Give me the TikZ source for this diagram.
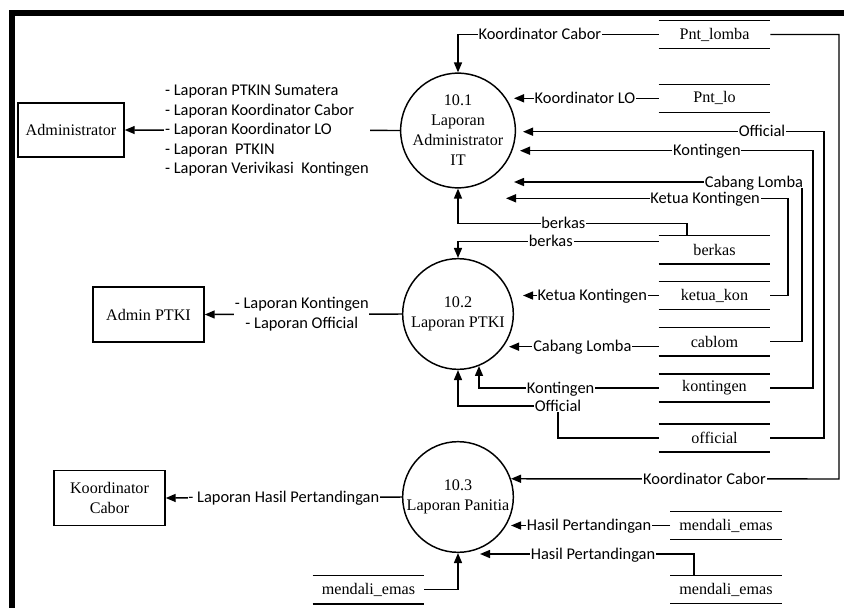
\documentclass[tikz,border=0pt]{standalone}
\usepackage{fontspec}
\setmainfont{Liberation Serif}
\newfontfamily\lblfont{Carlito}
\usetikzlibrary{arrows.meta,calc}
\begin{document}
\begin{tikzpicture}[x=0.75pt,y=-0.75pt,
  sertext/.style={font=\fontsize{12.1}{15}\selectfont},
  proc/.style={circle,draw,line width=1.1pt,minimum size=83pt,inner sep=0pt,align=center,sertext},
  ent/.style={rectangle,draw,line width=1.1pt,minimum width=83.25pt,minimum height=41.25pt,inner sep=0pt,align=center,sertext},
  store/.style={rectangle,minimum width=83.25pt,minimum height=20.7pt,inner sep=0pt,sertext},
  storeline/.style={line width=1.1pt},
  flow/.style={line width=1.1pt,-{Triangle[length=7.5pt,width=6pt]}},
  lbl/.style={font=\lblfont\fontsize{12.3}{14.6}\selectfont,fill=white,inner xsep=0.6pt,inner ysep=0.5pt,text height=7.9pt,text depth=0pt},
  lblblock/.style={font=\lblfont\fontsize{12.3}{14.6}\selectfont,fill=white,inner sep=0.6pt,align=left},
]
\useasboundingbox (0,0) rectangle (844,608);
% frame
\draw[line width=4.3pt] (844,13.3) -- (12.2,13.3) -- (12.2,608);

% processes
\node[proc] (p1) at (458,130.5) {10.1\\Laporan\\Administrator\\IT};
\node[proc] (p2) at (458,314) {10.2\\Laporan PTKI};
\node[proc] (p3) at (458,497) {10.3\\Laporan Panitia};

% external entities
\node[ent,minimum width=79.5pt,minimum height=40.5pt] (admin) at (71,130) {Administrator};
\node[ent] (adminptki) at (148.5,314.5) {Admin PTKI};
\node[ent] (koor) at (109.5,498) {Koordinator\\Cabor};

% data stores
\node[store] (pntlomba) at (714.5,34.5) {Pnt\_lomba};
\node[store] (pntlo) at (714.5,98.3) {Pnt\_lo};
\node[store] (berkas) at (714.5,249.7) {berkas};
\node[store] (ketuakon) at (714.5,295.5) {ketua\_kon};
\node[store] (cablom) at (714.5,341.7) {cablom};
\node[store] (kontingen) at (714.5,388) {kontingen};
\node[store] (official) at (714.5,438) {official};
\node[store] (me1) at (726,525.5) {mendali\_emas};
\node[store] (me2) at (726,589.5) {mendali\_emas};
\node[store] (me3) at (368.5,589.7) {mendali\_emas};
\foreach \s in {pntlomba,pntlo,berkas,ketuakon,cablom,kontingen,official,me1,me2,me3}
  \draw[storeline] (\s.north west) -- (\s.north east) (\s.south west) -- (\s.south east);

% free ends and corners
\coordinate (t1lo) at (514,98.3);
\coordinate (t1off) at (523,131.7);
\coordinate (t1kon) at (520,150.7);
\coordinate (t1cab) at (514,182);
\coordinate (t1ket) at (506,198.3);
\coordinate (c1off) at (824,131.7);
\coordinate (c1kon) at (813,150.7);
\coordinate (c1cab) at (802,182);
\coordinate (c1ket) at (788,198.3);
\coordinate (t2ket) at (523,295.5);
\coordinate (t2cab) at (509,346.7);
\coordinate (offc) at (558,406);
\coordinate (kcorner) at (839,479);
\coordinate (t3hp1) at (511,525.5);
\coordinate (t3hp2) at (480,554);

% 10.1 -> Administrator
\draw[flow] (p1.west) -- (admin.east);
\node[lblblock,anchor=west] (lbadm) at (164,131) {- Laporan PTKIN Sumatera\\- Laporan Koordinator Cabor\\- Laporan Koordinator LO\\- Laporan \ PTKIN\\- Laporan Verivikasi \ Kontingen};

% flows into 10.1
\draw[flow] (pntlomba.west) -| node[lbl,pos=0.296] (lb1) {Koordinator Cabor} (p1.north);
\draw[flow] (pntlo.west) -- node[lbl,pos=0.51] (lb2) {Koordinator LO} (t1lo);
\draw[flow] (official.east) -| (c1off) -- node[lbl,pos=0.206] (lb3) {Official} (t1off);
\draw[flow] (kontingen.east) -| (c1kon) -- node[lbl,pos=0.362] (lb4) {Kontingen} (t1kon);
\draw[flow] (cablom.east) -| (c1cab) -- node[lbl,pos=0.167] (lb5) {Cabang Lomba} (t1cab);
\draw[flow] (ketuakon.east) -| (c1ket) -- node[lbl,pos=0.294] (lb6) {Ketua Kontingen} (t1ket);
\draw[flow] ($(berkas.north)+(-27.5,0)$) |- node[lbl,pos=0.77] (lb7) {berkas} ($(p1.south)+(0,35)$) -- (p1.south);

% flows into 10.2
\draw[flow] ($(berkas.west)+(0,-8)$) -| node[lbl,pos=0.269] (lb8) {berkas} (p2.north);
\draw[flow] (ketuakon.west) -- node[lbl,pos=0.49] (lb9) {Ketua Kontingen} (t2ket);
\draw[flow] ($(cablom.west)+(0,5)$) -- node[lbl,pos=0.51] (lb10) {Cabang Lomba} (t2cab);
\draw[flow] (kontingen.west) -| node[lbl,pos=0.273] (lb11) {Kontingen} (p2.-68.6);
\draw[flow] (official.west) -| (offc) -| (p2.south);
\node[lbl] (lb12) at (offc) {Official};

% 10.2 -> Admin PTKI
\draw[flow] (p2.west) -- node[lblblock,align=center,pos=0.508] (lbptki) {- Laporan Kontingen\\- Laporan Official} (adminptki.east);

% flows into 10.3
\draw[flow] (pntlomba.east) -| (kcorner) -- node[lbl,pos=0.41] (lb13) {Koordinator Cabor} (p3.19);
\draw[flow] (me1.west) -- node[lbl,pos=0.51] (lb14) {Hasil Pertandingan} (t3hp1);
\draw[flow] ($(me2.north)+(-32,0)$) |- node[lbl,pos=0.736] (lb15) {Hasil Pertandingan} (t3hp2);
\draw[flow] (me3.east) -| (p3.south);

% 10.3 -> Koordinator Cabor
\draw[flow] (p3.west) -- node[lbl,pos=0.5] (lbkoor) {- Laporan Hasil Pertandingan} (koor.east);
\end{tikzpicture}
\end{document}
